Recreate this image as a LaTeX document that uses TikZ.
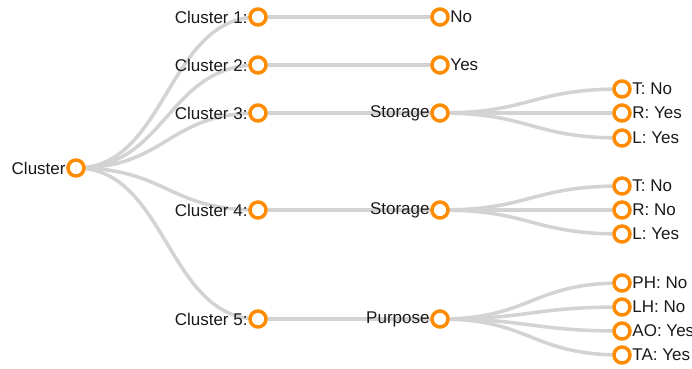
\documentclass[tikz,border=0pt]{standalone}
\usepackage{fontspec}
\setmainfont{Liberation Sans}
\usetikzlibrary{backgrounds}
\definecolor{dotorange}{HTML}{FF8C00}
\definecolor{linkgray}{HTML}{D3D3D3}
\begin{document}
\begin{tikzpicture}
[x=1pt, y=-1pt, font=\fontsize{17}{19}\selectfont, text=black!90,
dot/.style={circle, draw=dotorange, fill=white, line width=3.5pt, inner sep=0pt, minimum size=16pt},
link/.style={draw=linkgray, line width=3.5pt},
lblL/.style={anchor=east, inner sep=0.5pt},
lblR/.style={anchor=west, inner sep=0.5pt}]

\useasboundingbox (0,0) rectangle (692,368);

\node[dot] (root) at (76,168) {};

\node[dot] (c1) at (258,17) {};
\node[dot] (c2) at (258,65) {};
\node[dot] (c3) at (258,113) {};
\node[dot] (c4) at (258,210) {};
\node[dot] (c5) at (258,319) {};

\node[dot] (v1) at (440,17) {};
\node[dot] (v2) at (440,65) {};
\node[dot] (v3) at (440,113) {};
\node[dot] (v4) at (440,210) {};
\node[dot] (v5) at (440,319) {};

\node[dot] (l31) at (622,89) {};
\node[dot] (l32) at (622,113) {};
\node[dot] (l33) at (622,138) {};

\node[dot] (l41) at (622,186) {};
\node[dot] (l42) at (622,210) {};
\node[dot] (l43) at (622,234) {};

\node[dot] (l51) at (622,283) {};
\node[dot] (l52) at (622,307) {};
\node[dot] (l53) at (622,331) {};
\node[dot] (l54) at (622,355) {};

\begin{scope}[on background layer]
\draw[link] (root.center) .. controls +(91,0) and +(-91,0) .. (c1.center);
\draw[link] (root.center) .. controls +(91,0) and +(-91,0) .. (c2.center);
\draw[link] (root.center) .. controls +(91,0) and +(-91,0) .. (c3.center);
\draw[link] (root.center) .. controls +(91,0) and +(-91,0) .. (c4.center);
\draw[link] (root.center) .. controls +(91,0) and +(-91,0) .. (c5.center);

\draw[link] (c1.center) -- (v1.center);
\draw[link] (c2.center) -- (v2.center);
\draw[link] (c3.center) -- (v3.center);
\draw[link] (c4.center) -- (v4.center);
\draw[link] (c5.center) -- (v5.center);

\draw[link] (v3.center) .. controls +(91,0) and +(-91,0) .. (l31.center);
\draw[link] (v3.center) .. controls +(91,0) and +(-91,0) .. (l32.center);
\draw[link] (v3.center) .. controls +(91,0) and +(-91,0) .. (l33.center);
\draw[link] (v4.center) .. controls +(91,0) and +(-91,0) .. (l41.center);
\draw[link] (v4.center) .. controls +(91,0) and +(-91,0) .. (l42.center);
\draw[link] (v4.center) .. controls +(91,0) and +(-91,0) .. (l43.center);
\draw[link] (v5.center) .. controls +(91,0) and +(-91,0) .. (l51.center);
\draw[link] (v5.center) .. controls +(91,0) and +(-91,0) .. (l52.center);
\draw[link] (v5.center) .. controls +(91,0) and +(-91,0) .. (l53.center);
\draw[link] (v5.center) .. controls +(91,0) and +(-91,0) .. (l54.center);
\end{scope}

\node[lblL] (troot) at (root.west) {Cluster};

\node[lblL] (tc1) at (c1.west) {Cluster 1:};
\node[lblL] (tc2) at (c2.west) {Cluster 2:};
\node[lblL] (tc3) at (c3.west) {Cluster 3:};
\node[lblL] (tc4) at (c4.west) {Cluster 4:};
\node[lblL] (tc5) at (c5.west) {Cluster 5:};

\node[lblR] (tv1) at (v1.east) {No};
\node[lblR] (tv2) at (v2.east) {Yes};
\node[lblL] (tv3) at (v3.west) {Storage};
\node[lblL] (tv4) at (v4.west) {Storage};
\node[lblL] (tv5) at (v5.west) {Purpose};

\node[lblR] (tl31) at (l31.east) {T: No};
\node[lblR] (tl32) at (l32.east) {R: Yes};
\node[lblR] (tl33) at (l33.east) {L: Yes};
\node[lblR] (tl41) at (l41.east) {T: No};
\node[lblR] (tl42) at (l42.east) {R: No};
\node[lblR] (tl43) at (l43.east) {L: Yes};
\node[lblR] (tl51) at (l51.east) {PH: No};
\node[lblR] (tl52) at (l52.east) {LH: No};
\node[lblR] (tl53) at (l53.east) {AO: Yes};
\node[lblR] (tl54) at (l54.east) {TA: Yes};
\end{tikzpicture}
\end{document}
